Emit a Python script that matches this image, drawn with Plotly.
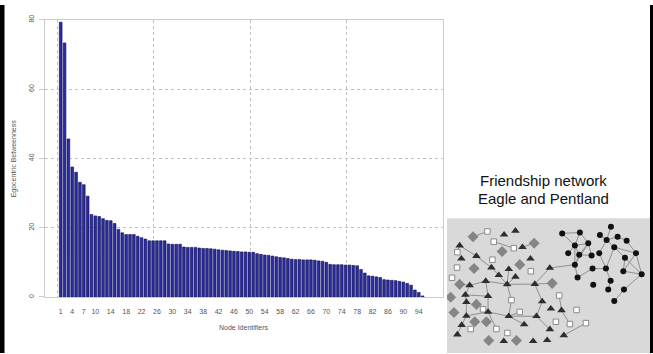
import plotly.graph_objects as go
import numpy as np

# ---------------- Bar chart data ----------------
betweenness = [79.3, 73.3, 45.6, 37.5, 36.0, 33.1, 32.4, 29.1, 23.8, 23.4,
               23.2, 22.6, 22.1, 22.0, 21.2, 19.5, 18.5, 18.0, 18.0, 18.0,
               17.5, 17.1, 16.7, 16.2, 16.2, 16.2, 16.2, 16.2, 15.3, 15.2,
               15.2, 15.2, 14.4, 14.3, 14.3, 14.3, 14.1, 14.0, 14.0, 13.9,
               13.8, 13.6, 13.5, 13.4, 13.3, 13.2, 13.1, 13.0, 13.0, 12.9,
               12.9, 12.5, 12.3, 12.1, 12.0, 11.8, 11.6, 11.4, 11.3, 11.1,
               10.9, 10.8, 10.8, 10.7, 10.7, 10.7, 10.6, 10.4, 10.3, 10.0,
               9.4, 9.3, 9.3, 9.3, 9.2, 9.2, 9.1, 9.0, 7.9, 6.9,
               6.1, 6.0, 5.8, 5.6, 5.0, 4.9, 4.8, 4.7, 4.5, 4.3,
               3.9, 3.4, 2.0, 1.3, 0.3]
node_ids = list(range(1, len(betweenness) + 1))
x_tick_labels = [1, 4, 7, 10, 14, 18, 22, 26, 30, 34, 38, 42, 46, 50, 54,
                 58, 62, 66, 70, 74, 78, 82, 86, 90, 94]
y_ticks = [0, 20, 40, 60, 80]

# ---------------- Network data (layout coordinates) ----------------
tri_x = [60, 65, 110, 193, 227, 248, 272, 155, 207, 177, 227, 202, 138, 90, 285,
         330, 77, 145, 80, 307, 145, 80, 207, 290, 66, 53, 253, 330, 372, 192,
         280, 322, 333, 365]
tri_y = [255, 295, 287, 222, 210, 260, 295, 322, 327, 345, 350, 373, 363, 376, 372,
         323, 405, 409, 427, 425, 457, 469, 470, 470, 497, 526, 495, 510, 528, 546,
         546, 543, 447, 452]
sq_x = [143, 162, 222, 53, 158, 52, 273, 37, 215, 358, 130, 240, 410, 348, 390,
        438, 93, 170, 203]
sq_y = [212, 243, 263, 275, 298, 322, 333, 353, 421, 407, 449, 457, 451, 487, 494,
        491, 509, 509, 521]
dia_x = [100, 283, 187, 240, 103, 60, 337, 33, 110, 43, 105, 140, 147, 230]
dia_y = [228, 248, 273, 313, 325, 373, 370, 412, 434, 459, 487, 487, 544, 544]
cir_x = [367, 420, 513, 480, 500, 533, 560, 405, 445, 385, 418, 455, 478, 523,
         588, 405, 458, 498, 555, 550, 605, 413, 512, 460, 505, 552, 523]
cir_y = [218, 215, 198, 223, 238, 228, 240, 255, 248, 278, 283, 285, 278, 260,
         278, 313, 325, 325, 292, 333, 342, 352, 362, 374, 389, 389, 424]

# edges as pairs of node keys: (type, index)
edges = [
    (("d", 0), ("s", 0)), (("s", 1), ("s", 2)), (("t", 5), ("d", 1)),
    (("t", 0), ("t", 2)), (("t", 2), ("t", 7)), (("t", 7), ("t", 9)), (("t", 9), ("t", 11)),
    (("t", 11), ("t", 8)), (("t", 11), ("t", 10)), (("t", 11), ("t", 14)), (("t", 11), ("t", 12)),
    (("t", 12), ("t", 13)), (("t", 13), ("d", 5)), (("t", 11), ("s", 8)), (("s", 8), ("t", 22)),
    (("t", 14), ("t", 15)), (("t", 14), ("d", 6)), (("t", 14), ("t", 19)), (("t", 19), ("t", 23)),
    (("t", 15), ("c", 15)),
    (("t", 13), ("t", 16)), (("t", 16), ("t", 18)), (("t", 16), ("t", 17)), (("t", 12), ("t", 17)),
    (("t", 17), ("t", 20)), (("t", 18), ("t", 21)), (("t", 21), ("t", 20)), (("t", 20), ("t", 22)),
    (("t", 22), ("t", 23)), (("t", 22), ("t", 26)), (("t", 21), ("t", 24)), (("t", 24), ("t", 25)),
    (("t", 20), ("s", 17)), (("t", 22), ("s", 11)), (("t", 23), ("t", 27)),
    (("s", 9), ("t", 33)), (("t", 33), ("s", 14)), (("t", 28), ("s", 15)),
    (("t", 0), ("s", 3)),
    (("c", 0), ("c", 1)), (("c", 0), ("c", 7)), (("c", 1), ("c", 7)), (("c", 1), ("c", 8)),
    (("c", 7), ("c", 8)), (("c", 7), ("c", 10)), (("c", 7), ("c", 9)), (("c", 8), ("c", 10)),
    (("c", 8), ("c", 11)), (("c", 10), ("c", 11)), (("c", 7), ("c", 15)), (("c", 10), ("c", 15)),
    (("c", 8), ("c", 15)), (("c", 15), ("c", 21)),
    (("c", 2), ("c", 4)), (("c", 3), ("c", 4)), (("c", 4), ("c", 12)), (("c", 4), ("c", 5)),
    (("c", 5), ("c", 6)), (("c", 6), ("c", 14)), (("c", 13), ("c", 14)), (("c", 12), ("c", 17)),
    (("c", 13), ("c", 17)), (("c", 13), ("c", 18)), (("c", 18), ("c", 19)), (("c", 18), ("c", 20)),
    (("c", 14), ("c", 20)), (("c", 14), ("c", 19)), (("c", 16), ("c", 17)), (("c", 17), ("c", 22)),
    (("c", 19), ("c", 20)), (("c", 21), ("c", 16)), (("c", 24), ("c", 22)), (("c", 25), ("c", 20)),
    (("c", 25), ("c", 26)), (("c", 4), ("c", 13)),
]

# ---------------- Figure ----------------
W, H = 653, 354
font_family = "Liberation Sans, Arial, sans-serif"
axis_grey = "#cccccc"
grid_grey = "#c2c2c2"
text_grey = "#555555"

def px_x(p):
    return p / W

def px_y(p):
    return 1 - p / H

fig = go.Figure()

fig.add_trace(go.Bar(
    x=node_ids, y=betweenness,
    marker=dict(color="#2c2ca2", line=dict(color="#0c0c4c", width=0.6)),
    xaxis="x", yaxis="y", showlegend=False,
))

# network edges
pos = {"t": (tri_x, tri_y), "s": (sq_x, sq_y), "d": (dia_x, dia_y), "c": (cir_x, cir_y)}
ex, ey = [], []
for (a, b) in edges:
    xa, ya = pos[a[0]][0][a[1]], pos[a[0]][1][a[1]]
    xb, yb = pos[b[0]][0][b[1]], pos[b[0]][1][b[1]]
    ex += [xa, xb, None]
    ey += [ya, yb, None]
fig.add_trace(go.Scatter(x=ex, y=ey, mode="lines", line=dict(color="#909090", width=1),
                         xaxis="x2", yaxis="y2", showlegend=False, hoverinfo="skip"))
fig.add_trace(go.Scatter(x=dia_x, y=dia_y, mode="markers",
                         marker=dict(symbol="diamond", size=8.5, color="#858585", line=dict(width=0)),
                         xaxis="x2", yaxis="y2", showlegend=False))
fig.add_trace(go.Scatter(x=sq_x, y=sq_y, mode="markers",
                         marker=dict(symbol="square", size=5.5, color="#ffffff",
                                     line=dict(color="#8a8a8a", width=1)),
                         xaxis="x2", yaxis="y2", showlegend=False))
fig.add_trace(go.Scatter(x=tri_x, y=tri_y, mode="markers",
                         marker=dict(symbol="triangle-up", size=7.5, color="#2e2e2e", line=dict(width=0)),
                         xaxis="x2", yaxis="y2", showlegend=False))
fig.add_trace(go.Scatter(x=cir_x, y=cir_y, mode="markers",
                         marker=dict(symbol="circle", size=6, color="#111111", line=dict(width=0)),
                         xaxis="x2", yaxis="y2", showlegend=False))

# axis geometry
bar1_px, bar_step = 60.7, 3.85
plot_left, plot_right, plot_top, plot_bottom = 45, 443, 15, 297
x_lo = 1 - (bar1_px - plot_left) / bar_step
x_hi = 1 + (plot_right - bar1_px) / bar_step
grid_start = 1 - (bar1_px - 57) / bar_step
grid_vals = list(np.linspace(grid_start, x_hi, 5))

fig.update_layout(
    width=W, height=H,
    margin=dict(l=0, r=0, t=0, b=0),
    paper_bgcolor="white", plot_bgcolor="rgba(0,0,0,0)",
    bargap=0.3,
    font=dict(family=font_family, size=7, color=text_grey),
    xaxis=dict(
        domain=[px_x(plot_left), px_x(plot_right)], range=[x_lo, x_hi],
        tickmode="array", tickvals=x_tick_labels, ticktext=[str(v) for v in x_tick_labels],
        ticks="", showgrid=False, zeroline=False,
        showline=True, mirror=True, linecolor=axis_grey, linewidth=1,
        tickfont=dict(size=7, color=text_grey), ticklabelstandoff=8,
        minor=dict(tickmode="array", tickvals=grid_vals, showgrid=True,
                   gridcolor=grid_grey, griddash="dot", gridwidth=1, ticks=""),
        anchor="y",
    ),
    yaxis=dict(
        domain=[px_y(plot_bottom), px_y(plot_top)], range=[0, 80],
        tickmode="array", tickvals=y_ticks,
        showgrid=True, gridcolor=grid_grey, griddash="dot", gridwidth=1,
        zeroline=False, ticks="outside", ticklen=5, tickcolor=axis_grey,
        tickangle=-90, ticklabelstandoff=2,
        showline=True, mirror=True, linecolor=axis_grey, linewidth=1,
        tickfont=dict(size=7, color=text_grey),
        anchor="x",
    ),
    xaxis2=dict(domain=[px_x(447), px_x(650)], range=[22, 630], visible=False, anchor="y2"),
    yaxis2=dict(domain=[0, px_y(217)], range=[582, 172], visible=False, anchor="x2"),
)

# gray network panel
fig.add_shape(type="rect", xref="x2 domain", yref="y2 domain", x0=0, x1=1, y0=0, y1=1,
              fillcolor="#d9d9d9", line=dict(width=0), layer="below")
# slide frame borders
fig.add_shape(type="rect", xref="paper", yref="paper", x0=0, x1=px_x(4.5), y0=0, y1=1,
              fillcolor="black", line=dict(width=0))
fig.add_shape(type="rect", xref="paper", yref="paper", x0=px_x(650), x1=1, y0=0, y1=1,
              fillcolor="black", line=dict(width=0))

# titles
ann = dict(xref="paper", yref="paper", showarrow=False, xanchor="center", yanchor="middle")
fig.add_annotation(text="Node Identifiers", x=px_x(244), y=px_y(328),
                   font=dict(size=7, color=text_grey), **ann)
fig.add_annotation(text="Egocentric Betweenness", x=px_x(14), y=px_y(156), textangle=-90,
                   font=dict(size=7, color=text_grey), **ann)
fig.add_annotation(text="Friendship network", x=px_x(543), y=px_y(179),
                   font=dict(size=15, color="#111111"), **ann)
fig.add_annotation(text="Eagle and Pentland", x=px_x(543), y=px_y(197),
                   font=dict(size=15, color="#111111"), **ann)

fig.write_html("out.html", config={"displayModeBar": False},
               post_script="document.body.style.margin='0px';document.body.style.overflow='hidden';")
